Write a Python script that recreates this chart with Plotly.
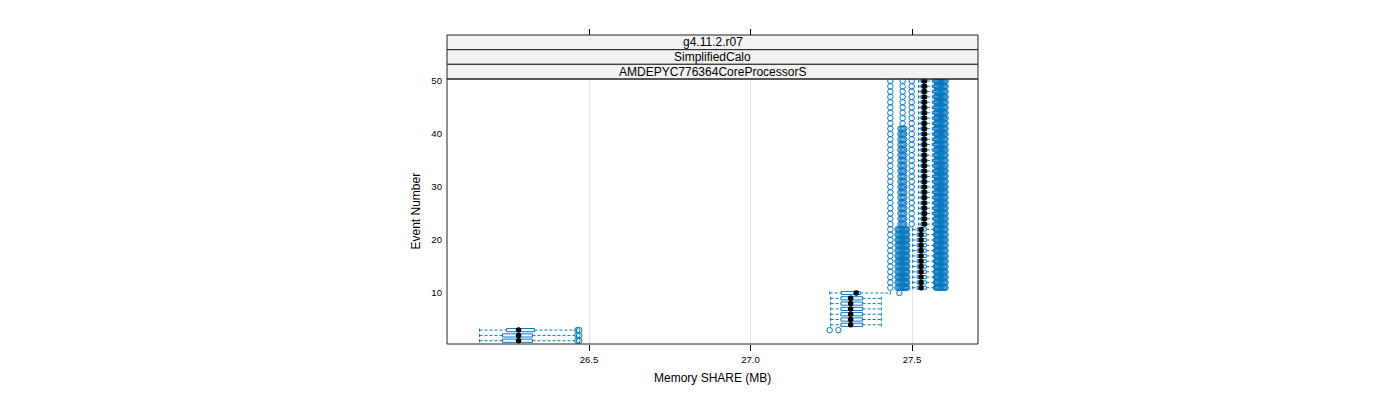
import plotly.graph_objects as go

# ---------------- data ----------------
events = list(range(1, 51))

whisker_lo = ([26.161, 26.161, 26.161] + [27.248] * 6 + [27.245]
              + [27.502] * 12 + [27.520] * 28)
q1 = ([26.232, 26.232, 26.245] + [27.280] * 6 + [27.281]
      + [27.516] * 12 + [27.528] * 28)
median = ([26.282, 26.282, 26.282] + [27.310] * 6 + [27.327]
          + [27.528] * 12 + [27.538] * 28)
q3 = ([26.325, 26.325, 26.331] + [27.347] * 6 + [27.340]
      + [27.544] * 12 + [27.546] * 28)
whisker_hi = ([26.461, 26.461, 26.461] + [27.405] * 6 + [27.433]
              + [27.570] * 12 + [27.563] * 28)

out_low = [26.464, 26.470]
out_e3 = [26.464, 26.470, 27.245, 27.272]
out_e10 = [27.461]
out_high_cluster = [27.574, 27.577, 27.580, 27.583, 27.586, 27.589, 27.592,
                    27.595, 27.598, 27.601, 27.604]
out_mid = ([27.433, 27.455, 27.458, 27.461, 27.464, 27.467, 27.470,
            27.473, 27.476, 27.479, 27.482, 27.485]
           + out_high_cluster)
out_upper = [27.433, 27.464, 27.468, 27.472, 27.476, 27.499] + out_high_cluster
out_top = [27.433, 27.471, 27.499] + out_high_cluster
outliers = ([out_low, out_low, out_e3] + [[]] * 6 + [out_e10]
            + [out_mid] * 12 + [out_upper] * 19 + [out_top] * 9)

x_ticks = [26.5, 27.0, 27.5]
y_ticks = [10, 20, 30, 40, 50]
strip_labels = ["g4.11.2.r07", "SimplifiedCalo", "AMDEPYC776364CoreProcessorS"]
x_title = "Memory SHARE (MB)"
y_title = "Event Number"

# ---------------- styling ----------------
BLUE = "#0a78c0"
OFF = 8                      # page body margin
W, H = 1400 - 2 * OFF, 400 - 2 * OFF


def px(x):
    return (x - OFF) / W


def py(y):
    return 1 - (y - OFF) / H


PX_L, PX_R, PX_T, PX_B = 447, 978, 79, 344
h = 0.3  # half box height (event units)

bx, by, wx, wy, cx, cy = [], [], [], [], [], []
ox, oy = [], []
for e, lo, a, m, b, hi, outs in zip(events, whisker_lo, q1, median, q3, whisker_hi, outliers):
    bx += [a, b, b, a, a, None]
    by += [e - h, e - h, e + h, e + h, e - h, None]
    wx += [lo, a, None, b, hi, None]
    wy += [e, e, None, e, e, None]
    cx += [lo, lo, None, hi, hi, None]
    cy += [e - h, e + h, None, e - h, e + h, None]
    for o in outs:
        ox.append(o)
        oy.append(e)

fig = go.Figure()
fig.add_trace(go.Scatter(x=wx, y=wy, mode="lines",
                         line=dict(color=BLUE, width=1, dash="3px,2px"),
                         hoverinfo="skip", showlegend=False))
fig.add_trace(go.Scatter(x=cx, y=cy, mode="lines",
                         line=dict(color=BLUE, width=1),
                         hoverinfo="skip", showlegend=False))
fig.add_trace(go.Scatter(x=bx, y=by, mode="lines",
                         line=dict(color=BLUE, width=1),
                         hoverinfo="skip", showlegend=False))
fig.add_trace(go.Scatter(x=ox, y=oy, mode="markers",
                         marker=dict(symbol="circle-open", size=5.5,
                                     color=BLUE, line=dict(width=1, color=BLUE)),
                         showlegend=False))
fig.add_trace(go.Scatter(x=median, y=events, mode="markers",
                         marker=dict(symbol="circle", size=5.5, color="black"),
                         showlegend=False))

dom_x = [px(PX_L), px(PX_R)]
dom_y = [py(PX_B), py(PX_T)]
x_range = [26.0604, 27.7043]

fig.update_layout(
    width=W, height=H,
    margin=dict(l=0, r=0, t=0, b=0, autoexpand=False),
    paper_bgcolor="white", plot_bgcolor="white",
    font=dict(family="Liberation Sans, Arial, sans-serif", color="black"),
    xaxis=dict(domain=dom_x, range=x_range, tickvals=x_ticks,
               ticktext=[f"{v:.1f}" for v in x_ticks], automargin=False,
               ticks="outside", ticklen=6, tickcolor="black", tickwidth=1,
               tickfont=dict(size=9.6), showgrid=True, gridcolor="#e6e6e6",
               gridwidth=1, zeroline=False, showline=False),
    xaxis2=dict(domain=dom_x, range=x_range, overlaying="x", anchor="free",
                position=py(35), side="top", tickvals=x_ticks, automargin=False,
                ticks="outside", ticklen=6, tickcolor="black", tickwidth=1,
                showticklabels=False, showgrid=False, zeroline=False,
                showline=False),
    yaxis=dict(domain=dom_y, range=[0.38, 50.38], tickvals=y_ticks,
               automargin=False,
               ticks="", tickfont=dict(size=9.6), showgrid=False,
               zeroline=False, showline=False, ticklabelstandoff=4),
)
fig.add_trace(go.Scatter(x=[None], y=[None], xaxis="x2", showlegend=False))

shapes = []
strip_edges = [35, 49.7, 64.3, 79]
for i, lab in enumerate(strip_labels):
    y0 = py(strip_edges[i + 1])
    y1 = py(strip_edges[i])
    shapes.append(dict(type="rect", xref="paper", yref="paper",
                       x0=dom_x[0], x1=dom_x[1], y0=y0, y1=y1,
                       fillcolor="#f2f2f2", line=dict(color="#222222", width=1),
                       layer="above"))
    fig.add_annotation(text=lab, xref="paper", yref="paper",
                       x=(dom_x[0] + dom_x[1]) / 2, y=(y0 + y1) / 2,
                       showarrow=False, font=dict(size=12), yanchor="middle")
shapes.append(dict(type="rect", xref="paper", yref="paper",
                   x0=dom_x[0], x1=dom_x[1], y0=dom_y[0], y1=dom_y[1],
                   line=dict(color="#222222", width=1), layer="above"))
fig.update_layout(shapes=shapes)

fig.add_annotation(text=x_title, xref="paper", yref="paper",
                   x=(dom_x[0] + dom_x[1]) / 2, y=py(378),
                   showarrow=False, font=dict(size=12), yanchor="middle")
fig.add_annotation(text=y_title, xref="paper", yref="paper",
                   x=px(415), y=py(211.5), textangle=-90,
                   showarrow=False, font=dict(size=12),
                   xanchor="center", yanchor="middle")

fig.write_html("out.html")
